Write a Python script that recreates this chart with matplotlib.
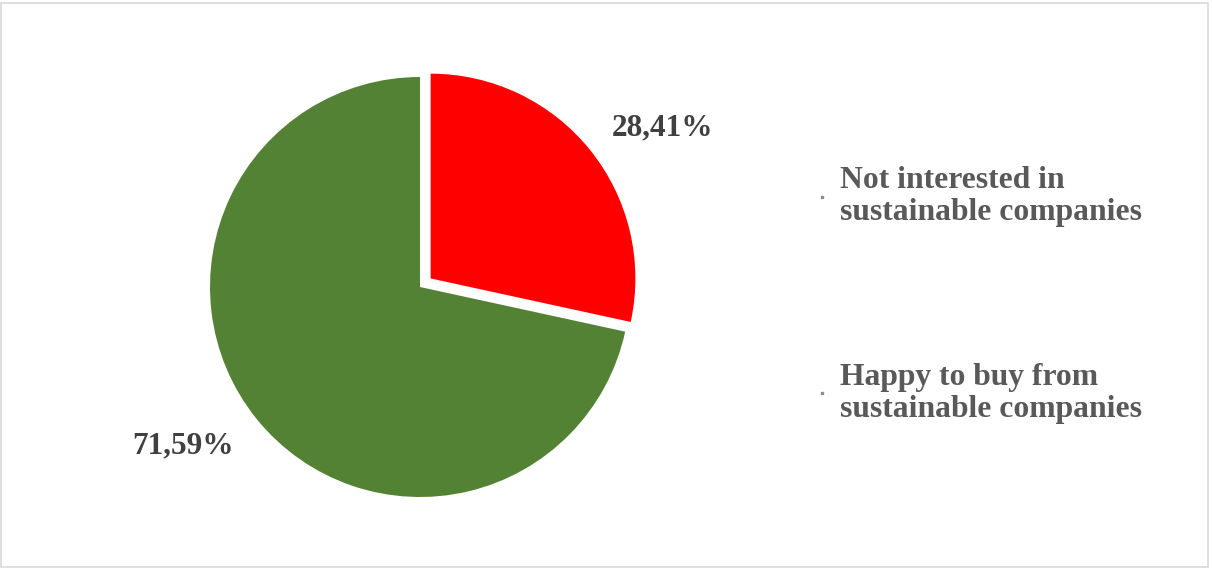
import matplotlib
matplotlib.use("Agg")
import matplotlib.pyplot as plt
from matplotlib.lines import Line2D
from matplotlib.patches import Rectangle

# data
categories = ["Not interested in\nsustainable companies",
              "Happy to buy from\nsustainable companies"]
shares = [28.41, 71.59]
value_labels = ["28,41%", "71,59%"]
colors = ["#FF0000", "#548235"]

plt.rcParams["font.family"] = ["Liberation Serif", "DejaVu Serif"]

W, H = 1212, 569
fig = plt.figure(figsize=(W / 100, H / 100), dpi=100)

# thin grey frame round the chart area
fig.patches.append(Rectangle((0.001, 0.004), 0.996, 0.991, transform=fig.transFigure,
                             fill=False, edgecolor="#d9d9d9", linewidth=1.2))

# pie axes: centre ~(420, 287) px from top-left, radius ~210 px
R = 210
cx, cy = 420, H - 287
half = 1.2 * R
ax = fig.add_axes([(cx - half) / W, (cy - half) / H, 2 * half / W, 2 * half / H])

wedges, _ = ax.pie(shares, colors=colors, startangle=90, counterclock=False,
                   explode=[0.065, 0], radius=1.0,
                   wedgeprops=dict(linewidth=0))
# exploded slice is drawn a bit smaller, as in the original
wedges[0].set_radius(0.975)
ax.set_xlim(-1.2, 1.2)
ax.set_ylim(-1.2, 1.2)
ax.set_aspect("equal")
ax.axis("off")

# value labels
label_pos = [(242 / R, 159 / R), (-237 / R, -159 / R)]
for txt, (x, y) in zip(value_labels, label_pos):
    ax.text(x, y, txt, ha="center", va="center", fontsize=22.5,
            fontweight="bold", color="#404040")

handles = [Line2D([], [], marker="s", markersize=1.5, color="#8c8c8c",
                  linestyle="none") for _ in categories]
leg = fig.legend(handles, categories, loc="center left",
                 bbox_to_anchor=(816 / W, 1 - 295 / H), frameon=False,
                 prop=dict(size=22.8, weight="bold"), labelcolor="#595959",
                 handlelength=0.4, handletextpad=0.35, labelspacing=4.3,
                 borderpad=0, borderaxespad=0)
for t in leg.get_texts():
    t.set_linespacing(1.12)

fig.savefig("out.png", dpi=100)
